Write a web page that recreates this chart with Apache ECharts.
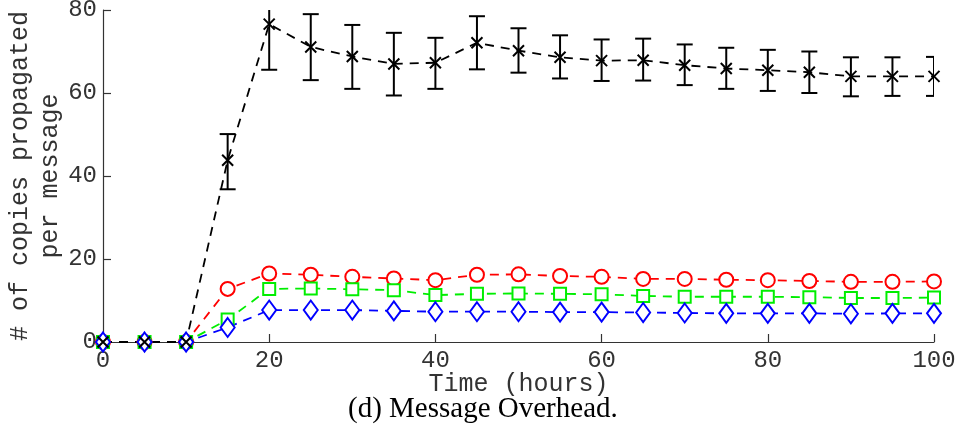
<!DOCTYPE html>
<html>
<head>
<meta charset="utf-8">
<script src="https://cdn.jsdelivr.net/npm/echarts@6/dist/echarts.min.js"></script>
<style>
  html, body { margin: 0; padding: 0; background: #fff; }
  #chart { width: 956px; height: 438px; }
</style>
</head>
<body>
<div id="chart"></div>
<script>
// Sampling times (hours)
const hours = [0, 5, 10, 15, 20, 25, 30, 35, 40, 45, 50, 55, 60, 65, 70, 75, 80, 85, 90, 95, 100];

// Mean copies per message for each protocol
const blackMean = [0, 0, 0, 43.8, 76.6, 71.1, 68.8, 67.0, 67.3, 72.1, 70.2, 68.6, 67.8, 67.9, 66.7, 65.9, 65.5, 65.0, 64.0, 64.0, 64.0];
const blackLow  = [0, 0, 0, 36.8, 65.6, 63.1, 61.0, 59.4, 61.0, 65.7, 64.9, 63.5, 62.9, 63.0, 61.9, 61.0, 60.5, 60.0, 59.2, 59.3, 59.3];
const blackHigh = [0, 0, 0, 50.1, 82.0, 79.0, 76.4, 74.5, 73.3, 78.5, 75.6, 73.9, 72.9, 73.1, 71.7, 70.9, 70.4, 70.0, 68.6, 68.6, 68.7];

const redMean   = [0, 0, 0, 12.8, 16.5, 16.2, 15.7, 15.3, 14.9, 16.2, 16.3, 15.9, 15.7, 15.2, 15.2, 15.0, 14.9, 14.7, 14.5, 14.5, 14.6];
const greenMean = [0, 0, 0, 5.4, 12.8, 12.9, 12.7, 12.5, 11.3, 11.6, 11.7, 11.6, 11.5, 11.1, 10.9, 10.9, 10.9, 10.8, 10.6, 10.6, 10.7];
const blueMean  = [0, 0, 0, 3.5, 7.7, 7.7, 7.7, 7.5, 7.3, 7.3, 7.3, 7.2, 7.2, 7.1, 7.0, 6.9, 6.9, 6.9, 6.8, 6.9, 6.9];

// Half-widths of the small confidence intervals on the lower curves
const redErr   = [0, 0, 0, 0.9, 1.0, 1.0, 0.9, 0.9, 0.9, 0.9, 0.9, 0.9, 0.9, 0.9, 0.9, 0.9, 0.9, 0.9, 0.9, 0.9, 0.9];
const greenErr = [0, 0, 0, 0.7, 0.8, 0.8, 0.8, 0.7, 0.7, 0.7, 0.7, 0.7, 0.7, 0.6, 0.6, 0.6, 0.6, 0.6, 0.6, 0.6, 0.6];
const blueErr  = [0, 0, 0, 0.3, 0.3, 0.3, 0.3, 0.3, 0.3, 0.3, 0.3, 0.3, 0.3, 0.3, 0.3, 0.3, 0.3, 0.3, 0.3, 0.3, 0.3];

const xTicks = [0, 20, 40, 60, 80, 100];
const yTicks = [0, 20, 40, 60, 80];

const mono = '"Liberation Mono", "DejaVu Sans Mono", monospace';

function pairs(ys) { return hours.map((h, i) => [h, ys[i]]); }

function errorSeries(low, high, color, capHalf, width) {
  const data = hours.map((h, i) => [h, low[i], high[i]]);
  return {
    type: 'custom',
    clip: true,
    z: 3,
    silent: true,
    data: data,
    encode: { x: 0, y: [1, 2] },
    renderItem: function (params, api) {
      const x = api.value(0);
      const lo = api.coord([x, api.value(1)]);
      const hi = api.coord([x, api.value(2)]);
      const style = { stroke: color, lineWidth: width, fill: null };
      return {
        type: 'group',
        children: [
          { type: 'line', shape: { x1: lo[0], y1: lo[1], x2: hi[0], y2: hi[1] }, style: style },
          { type: 'line', shape: { x1: lo[0] - capHalf, y1: lo[1], x2: lo[0] + capHalf, y2: lo[1] }, style: style },
          { type: 'line', shape: { x1: hi[0] - capHalf, y1: hi[1], x2: hi[0] + capHalf, y2: hi[1] }, style: style }
        ]
      };
    }
  };
}

function meanSeries(name, ys, color, symbol, size) {
  return {
    name: name,
    type: 'line',
    data: pairs(ys),
    z: 4,
    clip: true,
    symbol: symbol,
    symbolSize: size,
    showAllSymbol: true,
    lineStyle: { color: color, width: 1.8, type: [9, 7] },
    itemStyle: { color: color, borderColor: color, borderWidth: 2 },
    emphasis: { disabled: true },
    animation: false
  };
}

const chart = echarts.init(document.getElementById('chart'), null, { renderer: 'canvas' });

const lowOf = (m, e) => m.map((v, i) => v - e[i]);
const highOf = (m, e) => m.map((v, i) => v + e[i]);

chart.setOption({
  animation: false,
  backgroundColor: '#fff',
  title: {
    text: '(d) Message Overhead.',
    left: 348,
    top: 395,
    padding: 0,
    textStyle: { fontFamily: '"Liberation Serif", "DejaVu Serif", serif', fontSize: 29, fontWeight: 'normal', color: '#000' }
  },
  grid: { left: 103, right: 22, top: 10, bottom: 96, containLabel: false, outerBoundsMode: 'none' },
  xAxis: {
    type: 'value',
    min: 0, max: 100, interval: 20,
    name: 'Time (hours)',
    nameLocation: 'middle',
    nameGap: 30,
    nameMoveOverlap: false,
    nameTextStyle: { fontFamily: mono, fontSize: 25, color: '#333' },
    axisLine: { show: true, lineStyle: { color: '#333', width: 1.2 } },
    axisTick: { show: true, inside: true, length: 8, lineStyle: { color: '#333', width: 1.2 } },
    axisLabel: {
      fontFamily: mono, fontSize: 24, color: '#333', margin: 7,
      formatter: v => (xTicks.indexOf(v) >= 0 ? String(v) : '')
    },
    splitLine: { show: false }
  },
  yAxis: {
    type: 'value',
    min: 0, max: 80, interval: 20,
    name: '# of copies propagated\nper message',
    nameLocation: 'middle',
    nameRotate: 90,
    nameGap: 38,
    nameMoveOverlap: false,
    nameTextStyle: { fontFamily: mono, fontSize: 25, color: '#333', lineHeight: 30 },
    axisLine: { show: true, lineStyle: { color: '#333', width: 1.2 } },
    axisTick: { show: true, inside: true, length: 8, lineStyle: { color: '#333', width: 1.2 } },
    axisLabel: {
      fontFamily: mono, fontSize: 24, color: '#333', margin: 6,
      formatter: v => (yTicks.indexOf(v) >= 0 ? String(v) : '')
    },
    splitLine: { show: false }
  },
  series: [
    errorSeries(blackLow, blackHigh, '#000', 8, 2),
    errorSeries(lowOf(redMean, redErr), highOf(redMean, redErr), '#ff0000', 5, 1.5),
    errorSeries(lowOf(greenMean, greenErr), highOf(greenMean, greenErr), '#00ee00', 5, 1.5),
    errorSeries(lowOf(blueMean, blueErr), highOf(blueMean, blueErr), '#0000ff', 5, 1.5),
    meanSeries('red', redMean, '#ff0000', 'emptyCircle', 14),
    meanSeries('green', greenMean, '#00ee00', 'emptyRect', 12),
    meanSeries('blue', blueMean, '#0000ff', 'emptyDiamond', [14, 19]),
    meanSeries('black', blackMean, '#000', 'path://M0,0L10,10M10,0L0,10', 11)
  ]
});
</script>
</body>
</html>
